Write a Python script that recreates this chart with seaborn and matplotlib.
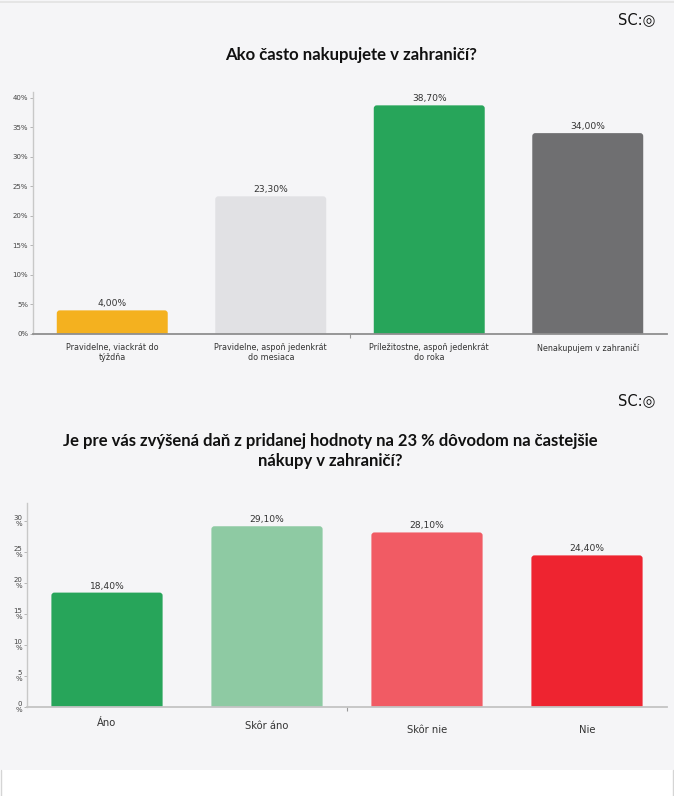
import matplotlib
matplotlib.use("Agg")
import matplotlib.pyplot as plt
import seaborn as sns
import pandas as pd
from matplotlib.patches import FancyBboxPatch, Rectangle
from matplotlib.transforms import ScaledTranslation

# ---------------- data ----------------
title1 = "Ako často nakupujete v zahraničí?"
cats1 = ["Pravidelne, viackrát do\ntýždňa",
         "Pravidelne, aspoň jedenkrát\ndo mesiaca",
         "Príležitostne, aspoň jedenkrát\ndo roka",
         "Nenakupujem v zahraničí"]
vals1 = [4.00, 23.30, 38.70, 34.00]
colors1 = ["#f4b11f", "#e1e1e4", "#27a55a", "#6f6f71"]
yticks1 = [0, 5, 10, 15, 20, 25, 30, 35, 40]
yticklabels1 = ["0%", "5%", "10%", "15%", "20%", "25%", "30%", "35%", "40%"]

title2 = "Je pre vás zvýšená daň z pridanej hodnoty na 23 % dôvodom na častejšie\nnákupy v zahraničí?"
cats2 = ["Áno", "Skôr áno", "Skôr nie", "Nie"]
vals2 = [18.40, 29.10, 28.10, 24.40]
colors2 = ["#27a55a", "#8ecaa3", "#f15b64", "#ee2430"]
yticks2 = [0, 5, 10, 15, 20, 25, 30]
yticklabels2 = ["0\n%", "5\n%", "10\n%", "15\n%", "20\n%", "25\n%", "30\n%"]

BG = "#f5f5f7"
W, H = 674, 796

sns.set_theme(style="white")
plt.rcParams["font.family"] = ["DejaVu Sans"]

fig = plt.figure(figsize=(W / 100, H / 100), dpi=100, facecolor=BG)


def fx(px):
    return px / W


def fy(py):
    return 1 - py / H


# white strip at the bottom
fig.patches.append(Rectangle((0, 0), 1, fy(770), transform=fig.transFigure,
                             facecolor="white", edgecolor="none", zorder=0))
fig.lines.append(plt.Line2D([fx(1), fx(1)], [0, fy(770)], transform=fig.transFigure,
                            color="#d5d5d5", lw=1))
fig.lines.append(plt.Line2D([fx(672.5), fx(672.5)], [0, fy(770)], transform=fig.transFigure,
                            color="#d5d5d5", lw=1))
fig.lines.append(plt.Line2D([0, 1], [fy(1.5), fy(1.5)], transform=fig.transFigure,
                            color="#e2e2e2", lw=1.2))


def rounded(ax, xpx_per_unit, ypx_per_unit, radius_px=3):
    patches = list(ax.patches)
    for p in patches:
        x, y = p.get_x(), p.get_y()
        w, h = p.get_width(), p.get_height()
        fc = p.get_facecolor()
        p.remove()
        r = radius_px / xpx_per_unit
        aspect = xpx_per_unit / ypx_per_unit
        ext = 1.0
        fb = FancyBboxPatch((x, y - ext), w, h + ext,
                            boxstyle=f"round,pad=0,rounding_size={r}",
                            mutation_aspect=aspect, facecolor=fc,
                            edgecolor="none", zorder=2)
        ax.add_patch(fb)


def panel(ax, cats, vals, colors, ymax, yticks, yticklabels, width,
          ytick_fs, xtick_fs, xpad, bottom_color):
    df = pd.DataFrame({"cat": cats, "val": vals})
    sns.barplot(data=df, x="cat", y="val", hue="cat", palette=colors,
                legend=False, width=width, ax=ax, saturation=1)
    ax.set_facecolor(BG)
    ax.set_xlim(-0.5, len(cats) - 0.5)
    ax.set_ylim(0, ymax)
    ax.set_xlabel("")
    ax.set_ylabel("")
    ax.set_yticks(yticks)
    ax.set_yticklabels(yticklabels, fontsize=ytick_fs, color="#444444",
                       linespacing=1.05)
    ax.tick_params(axis="y", left=True, length=2, width=0.6, color="#aaaaaa",
                   pad=1.5)
    ax.tick_params(axis="x", bottom=False, length=0, pad=xpad,
                   labelsize=xtick_fs, labelcolor="#333333")
    ax.set_xticks([1.5], minor=True)
    ax.tick_params(axis="x", which="minor", bottom=True, length=3,
                   width=0.8, color="#999999")
    for s in ["top", "right"]:
        ax.spines[s].set_visible(False)
    ax.spines["left"].set_color("#c8c8c8")
    ax.spines["left"].set_linewidth(1.0)
    ax.spines["bottom"].set_color(bottom_color)
    ax.spines["bottom"].set_linewidth(1.3)
    ax.spines["bottom"].set_zorder(3)
    for i, v in enumerate(vals):
        ax.annotate(f"{v:.2f}".replace(".", ",") + "%", (i, v),
                    xytext=(0, 1.5), textcoords="offset points",
                    ha="center", va="bottom", fontsize=6.6, color="#333333")


# ---------------- panel 1 ----------------
ax1 = fig.add_axes([fx(33), fy(334), fx(667) - fx(33), fy(92) - fy(334)])
panel(ax1, cats1, vals1, colors1, 40.96, yticks1, yticklabels1, 0.7,
      5.0, 5.8, 6.5, "#8f8f8f")
for lab in ax1.get_xticklabels():
    lab.set_linespacing(1.15)
rounded(ax1, 634 / 4, 236.3 / 40)

# ---------------- panel 2 ----------------
ax2 = fig.add_axes([fx(27), fy(706.7), fx(667) - fx(27), fy(503) - fy(706.7)])
panel(ax2, cats2, vals2, colors2, 32.85, yticks2, yticklabels2, 0.695,
      5.0, 7.2, 8.0, "#c4c4c4")
rounded(ax2, 640 / 4, 6.2)
offsets = [0, 2.7, 7.0, 7.0]
for lab, off in zip(ax2.get_xticklabels(), offsets):
    lab.set_transform(lab.get_transform() +
                      ScaledTranslation(0, -off / 100, fig.dpi_scale_trans))

# ---------------- titles & logos ----------------
fig.text(fx(351), fy(55), title1, ha="center", va="center", fontsize=12.1,
         fontweight="bold", family=["Lato", "DejaVu Sans"], color="#111111")
fig.text(fx(330), fy(451), title2, ha="center", va="center", fontsize=12.0,
         fontweight="bold", family=["Lato", "DejaVu Sans"], color="#111111",
         linespacing=1.3)
for ly in (20, 401):
    fig.text(fx(655), fy(ly), "SC:◎", ha="right", va="center", fontsize=10.5,
             family=["DejaVu Sans"], color="#111111")

fig.savefig("out.png", dpi=100, facecolor=BG)
